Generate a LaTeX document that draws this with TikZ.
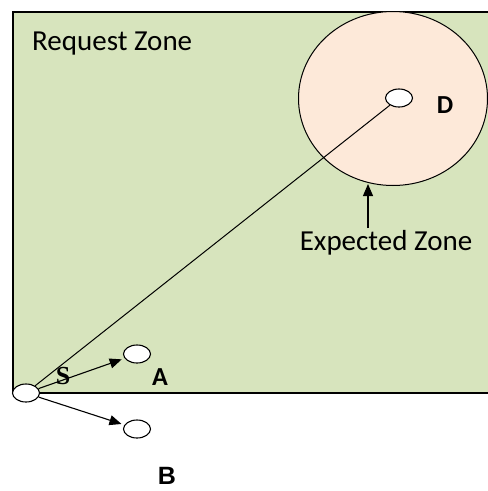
\documentclass[tikz,border=0pt]{standalone}
\usepackage{fontspec}
\setmainfont{Carlito}
\newfontfamily\arialfont{Liberation Sans}
\newfontfamily\seriffont{Liberation Serif}
\usetikzlibrary{shapes.geometric,arrows.meta}
\definecolor{zonegreen}{HTML}{D7E4BD}
\definecolor{zonepeach}{HTML}{FDE9D9}
\tikzset{
  host/.style={ellipse,draw,line width=1.1pt,fill=white,minimum width=27pt,minimum height=18pt,inner sep=0pt},
  lbl/.style={font=\fontsize{29}{32}\selectfont,inner sep=0pt},
  blbl/.style={font=\fontsize{26}{30}\selectfont\bfseries,inner sep=0pt},
  arr/.style={line width=1.1pt,-{Triangle[length=12pt,width=10pt]}}
}
\begin{document}
\begin{tikzpicture}[x=1pt,y=-1pt]
\useasboundingbox (0,0) rectangle (488,491);
\fill[white] (0,0) rectangle (488,491);
% request zone
\draw[line width=1.2pt,fill=zonegreen] (13,12) rectangle (492,393);
\node[lbl,anchor=west] (rz) at (32,44) {Request Zone};
% expected zone
\node[ellipse,draw,line width=1pt,fill=zonepeach,minimum width=189pt,minimum height=174pt,inner sep=0pt] (ez) at (393,98.5) {};
\node[lbl] (ezl) at (386,243) {Expected Zone};
\coordinate (ezp) at (368,184);
\draw[arr] (368,228) -- (ezp);
% hosts
\node[host] (D) at (399,98) {};
\node[blbl] (Dl) at (445,105) {D};
\node[host] (S) at (26,393) {};
\node[host] (A) at (137,354) {};
\node[host] (B) at (137,429) {};
\node[font=\fontsize{26}{30}\selectfont\seriffont\bfseries,inner sep=0pt] (Sl) at (63,376) {S};
\node[blbl] (Al) at (160,377) {A};
\node[font=\fontsize{25}{30}\selectfont\arialfont\bfseries,inner sep=0pt] (Bl) at (167,476) {B};
% connectors
\draw[line width=1pt] (S) -- (D);
\draw[arr,shorten >=3pt] (S) -- (A);
\draw[arr,shorten >=3pt] (S) -- (B);
\end{tikzpicture}
\end{document}
